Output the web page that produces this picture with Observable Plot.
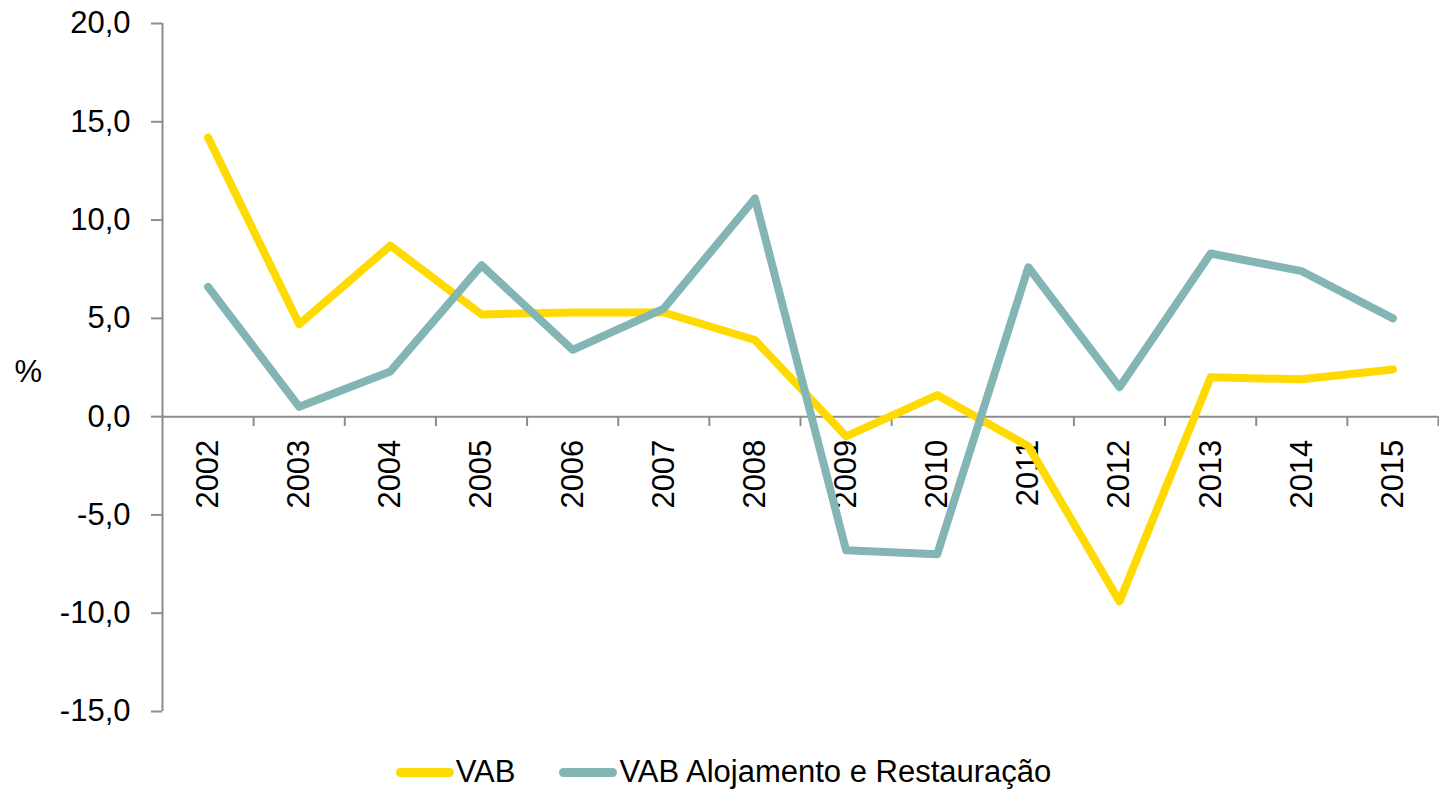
<!DOCTYPE html>
<html>
<head>
<meta charset="utf-8">
<script src="https://cdn.jsdelivr.net/npm/d3@7"></script>
<script src="https://cdn.jsdelivr.net/npm/@observablehq/plot@0.6"></script>
<style>
  html, body { margin: 0; padding: 0; background: #fff; }
  body { width: 1439px; height: 789px; overflow: hidden; font-family: Tahoma, "Liberation Sans", sans-serif; }
  #legend { display: flex; justify-content: center; align-items: center; gap: 44px; font-size: 31px; color: #000; margin-top: 6px; padding-left: 8px; }
  .item { display: flex; align-items: center; gap: 2px; }
  .sw { width: 58px; height: 9px; border-radius: 5px; display: inline-block; }
</style>
</head>
<body>
<div id="chart"></div>
<div id="legend"></div>
<script>
const years = [2002, 2003, 2004, 2005, 2006, 2007, 2008, 2009, 2010, 2011, 2012, 2013, 2014, 2015];
const seriesNames = ["VAB", "VAB Alojamento e Restauração"];
const vab = [14.2, 4.7, 8.7, 5.2, 5.3, 5.3, 3.9, -1.0, 1.1, -1.5, -9.4, 2.0, 1.9, 2.4];
const vabAlojamento = [6.6, 0.5, 2.3, 7.7, 3.4, 5.5, 11.1, -6.8, -7.0, 7.6, 1.5, 8.3, 7.4, 5.0];
const yTicks = [-15, -10, -5, 0, 5, 10, 15, 20];
const colors = ["#FFDA00", "#84B5B5"];

const data = [];
years.forEach((yr, i) => {
  data.push({year: yr, value: vab[i], series: seriesNames[0]});
  data.push({year: yr, value: vabAlojamento[i], series: seriesNames[1]});
});
const boundaries = years.map(y => y + 0.5);

const gray = "#8c8c8c";
const fontFamily = 'Tahoma, "Liberation Sans", sans-serif';

const chart = Plot.plot({
  width: 1439,
  height: 748,
  marginLeft: 162,
  marginRight: 1,
  marginTop: 23,
  marginBottom: 37,
  style: {fontFamily, fontSize: "31px", color: "#000", background: "#fff"},
  x: {domain: [years[0] - 0.5, years[years.length - 1] + 0.5], axis: null},
  y: {domain: [-15, 20], axis: null},
  color: {domain: seriesNames, range: colors},
  marks: [
    Plot.ruleX([years[0] - 0.5], {y1: -15, y2: 20, stroke: gray, strokeWidth: 2}),
    Plot.axisY({ticks: yTicks, tickSize: 11, tickPadding: 21, stroke: gray, strokeWidth: 2,
      tickFormat: d => d.toFixed(1).replace(".", ","), fontSize: 31, label: null}),
    Plot.ruleY([0], {stroke: gray, strokeWidth: 2}),
    Plot.ruleX(boundaries, {y1: 0, y2: -0.5, stroke: gray, strokeWidth: 2}),
    Plot.text(years, {x: d => d, y: 0, text: d => String(d), rotate: -90, textAnchor: "end",
      lineAnchor: "middle", dy: 23, fontSize: 31}),
    Plot.text(["%"], {frameAnchor: "left", textAnchor: "start", dx: -148, dy: 5, fontSize: 31}),
    Plot.line(data, {x: "year", y: "value", z: "series", stroke: "series", strokeWidth: 8,
      strokeLinecap: "round", strokeLinejoin: "round"})
  ]
});
document.getElementById("chart").appendChild(chart);

const legend = document.getElementById("legend");
seriesNames.forEach((name, i) => {
  const item = document.createElement("div");
  item.className = "item";
  const sw = document.createElement("span");
  sw.className = "sw";
  sw.style.background = colors[i];
  const label = document.createElement("span");
  label.textContent = name;
  item.appendChild(sw);
  item.appendChild(label);
  legend.appendChild(item);
});
</script>
</body>
</html>
